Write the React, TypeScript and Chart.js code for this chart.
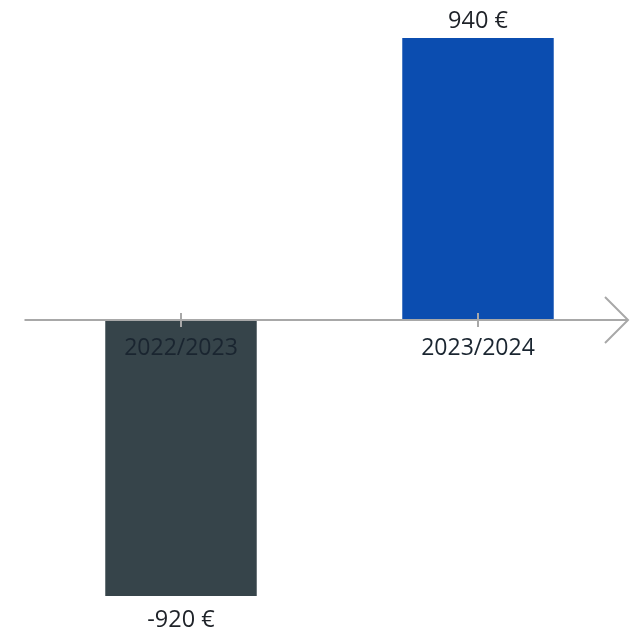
import React, { useEffect, useRef } from "react";
import { Chart, registerables } from "chart.js";

Chart.register(...registerables);

const categories = ["2022/2023", "2023/2024"];
const values = [-920, 940];
const valueLabels = ["-920 €", "940 €"];
const barColors = ["#36444a", "#0b4db0"];

const FONT = "'Open Sans', 'Noto Sans', sans-serif";

const axisPlugin = {
  id: "arrowAxis",
  afterDatasetsDraw(chart: any) {
    const { ctx, chartArea, scales } = chart;
    const x = scales.x;
    const y = scales.y;
    const y0 = y.getPixelForValue(0);
    ctx.save();
    ctx.strokeStyle = "#a8a8a8";
    ctx.lineWidth = 2;
    ctx.beginPath();
    ctx.moveTo(chartArea.left - 8, y0);
    ctx.lineTo(chartArea.right + 1.5, y0);
    ctx.stroke();
    ctx.beginPath();
    ctx.moveTo(chartArea.right - 21.5, y0 - 23);
    ctx.lineTo(chartArea.right + 1.5, y0);
    ctx.lineTo(chartArea.right - 21.5, y0 + 23);
    ctx.stroke();
    for (let i = 0; i < categories.length; i++) {
      const px = x.getPixelForTick(i);
      ctx.beginPath();
      ctx.moveTo(px, y0 - 7);
      ctx.lineTo(px, y0 + 7);
      ctx.stroke();
    }
    const meta = chart.getDatasetMeta(0);
    ctx.fillStyle = "#1e2228";
    ctx.font = `23.5px ${FONT}`;
    ctx.textAlign = "center";
    meta.data.forEach((bar: any, i: number) => {
      const v = values[i];
      if (v >= 0) {
        ctx.textBaseline = "bottom";
        ctx.fillText(valueLabels[i], bar.x, bar.y - 5);
      } else {
        ctx.textBaseline = "top";
        ctx.fillText(valueLabels[i], bar.x, bar.y + 13);
      }
    });
    ctx.restore();
  },
};

export default function App() {
  const ref = useRef<HTMLCanvasElement>(null);
  useEffect(() => {
    document.body.style.margin = "0";
    if (!ref.current) return;
    const chart = new Chart(ref.current, {
      type: "bar",
      data: {
        labels: categories,
        datasets: [
          {
            data: values,
            backgroundColor: barColors,
            borderWidth: 0,
            barPercentage: 0.51,
            categoryPercentage: 1,
          },
        ],
      },
      options: {
        animation: false,
        responsive: true,
        maintainAspectRatio: false,
        layout: { padding: { left: 32.5, right: 12.5, top: 20, bottom: 13 } },
        plugins: {
          legend: { display: false },
          tooltip: { enabled: false },
        },
        scales: {
          x: {
            position: { y: 0 } as any,
            z: 1,
            grid: { display: false },
            border: { display: false },
            ticks: {
              z: 1,
              color: "#1a2530",
              font: { family: FONT, size: 23 },
              padding: 7,
              maxRotation: 0,
            },
          },
          y: {
            display: false,
            min: -1000,
            max: 1000,
          },
        },
      },
      plugins: [axisPlugin],
    });
    return () => chart.destroy();
  }, []);
  return (
    <div style={{ width: 639, height: 633, position: "relative" }}>
      <canvas ref={ref} />
    </div>
  );
}
